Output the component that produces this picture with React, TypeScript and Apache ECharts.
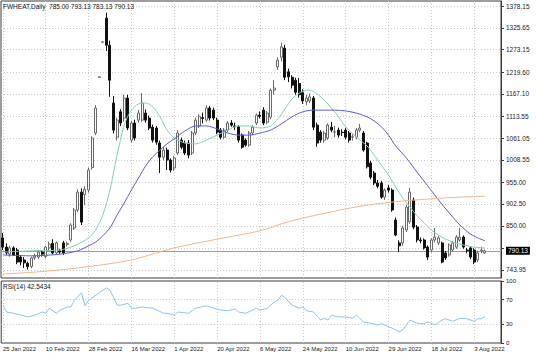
import React, { useEffect, useRef } from "react";
import * as echarts from "echarts";

const symbolName = "FWHEAT,Daily";
const lastOHLC = [785.0, 793.13, 783.13, 790.13];
const rsiLast = 42.5434;

const opens = [
  821, 799, 782, 797, 792, 775, 768, 760, 752, 773,
  775, 787, 776, 797, 808, 785, 790, 809, 805, 816,
  845, 888, 931, 925, 936, 990, 1073, 1207, 1291, 1349,
  1284, 1145, 1063, 1124, 1109, 1157, 1056, 1097, 1104, 1104,
  1121, 1109, 1087, 1085, 1049, 1015, 1032, 1008, 989, 1025,
  1056, 1049, 1049, 1025, 1073, 1090, 1110, 1104, 1133, 1128,
  1104, 1080, 1063, 1080, 1097, 1090, 1088, 1068, 1056, 1044,
  1073, 1097, 1116, 1128, 1099, 1111, 1176, 1232, 1255, 1277,
  1220, 1207, 1200, 1192, 1170, 1148, 1150, 1157, 1092, 1075,
  1056, 1061, 1087, 1075, 1080, 1075, 1080, 1073, 1063, 1063,
  1080, 1073, 1049, 1001, 977, 953, 953, 919, 941, 936,
  864, 809, 809, 840, 860, 912, 847, 816, 816, 799,
  792, 816, 809, 809, 785, 780, 792, 799, 816, 823,
  792, 797, 792, 768, 790, 785,
];
const highs = [
  833, 808, 802, 801, 797, 780, 775, 764, 776, 783,
  790, 792, 802, 812, 818, 812, 795, 814, 812, 856,
  893, 938, 940, 945, 990, 1065, 1140, 1209, 1293, 1362,
  1295, 1162, 1110, 1130, 1165, 1165, 1102, 1105, 1128, 1169,
  1130, 1115, 1093, 1090, 1055, 1040, 1038, 1012, 1018, 1080,
  1062, 1055, 1056, 1078, 1110, 1118, 1122, 1140, 1138, 1134,
  1110, 1085, 1085, 1102, 1104, 1098, 1092, 1072, 1060, 1078,
  1092, 1120, 1125, 1135, 1126, 1180, 1200, 1255, 1290, 1285,
  1228, 1212, 1206, 1205, 1178, 1165, 1168, 1162, 1098, 1080,
  1078, 1096, 1100, 1090, 1086, 1082, 1085, 1078, 1070, 1085,
  1095, 1078, 1052, 1006, 982, 960, 958, 940, 948, 940,
  870, 815, 850, 900, 941, 918, 852, 822, 820, 803,
  820, 845, 826, 812, 790, 808, 813, 828, 845, 827,
  797, 801, 796, 790, 800, 793.13,
];
const lows = [
  792, 780, 776, 778, 758, 755, 749, 745, 748, 768,
  770, 776, 772, 790, 782, 780, 783, 780, 800, 812,
  840, 883, 852, 900, 930, 985, 1068, 1206, 1290, 1270,
  1160, 1072, 1055, 1090, 1100, 1080, 1050, 1055, 1098, 1100,
  1098, 1080, 1050, 1045, 977, 1008, 984, 978, 982, 1020,
  1034, 1020, 1012, 1020, 1068, 1085, 1096, 1100, 1103, 1104,
  1070, 1058, 1058, 1075, 1088, 1080, 1050, 1035, 1040, 1040,
  1068, 1092, 1108, 1092, 1094, 1106, 1165, 1225, 1245, 1200,
  1195, 1180, 1165, 1158, 1143, 1140, 1145, 1080, 1040, 1050,
  1050, 1056, 1075, 1063, 1062, 1066, 1058, 1050, 1055, 1058,
  1075, 1028, 988, 962, 948, 940, 915, 912, 930, 884,
  825, 787, 802, 835, 855, 842, 810, 808, 793, 768,
  786, 810, 804, 760, 768, 776, 788, 795, 812, 795,
  784, 770, 758, 763, 784, 783.13,
];
const closes = [
  799, 785, 797, 780, 763, 763, 761, 752, 773, 778,
  787, 782, 799, 806, 785, 809, 787, 785, 808, 852,
  888, 931, 859, 938, 984, 1061, 1133, 1208, 1292, 1284,
  1200, 1080, 1104, 1097, 1157, 1085, 1097, 1061, 1121, 1145,
  1104, 1085, 1056, 1051, 1015, 1032, 1008, 984, 1013, 1073,
  1039, 1025, 1020, 1073, 1104, 1113, 1108, 1133, 1109, 1109,
  1075, 1063, 1080, 1097, 1092, 1088, 1056, 1039, 1044, 1073,
  1087, 1116, 1113, 1097, 1121, 1176, 1181, 1248, 1280, 1207,
  1208, 1188, 1171, 1165, 1150, 1157, 1160, 1087, 1049, 1056,
  1073, 1092, 1080, 1076, 1068, 1074, 1063, 1056, 1064, 1080,
  1085, 1032, 992, 967, 953, 945, 919, 936, 936, 888,
  828, 802, 845, 895, 931, 847, 816, 814, 797, 775,
  816, 823, 821, 763, 773, 804, 809, 823, 823, 799,
  790, 775, 763, 785, 792, 790.13,
];

// moving averages: [bar index, value]
const maFast = [
  [0, 787], [8, 790], [16, 792], [20, 802], [24, 821], [26, 840], [28, 876], [30, 936],
  [32, 1020], [34, 1092], [36, 1128], [38, 1143], [40, 1145], [42, 1136], [44, 1112],
  [46, 1080], [48, 1061], [51, 1049], [54, 1047], [57, 1056], [60, 1068], [63, 1080],
  [66, 1090], [69, 1090], [72, 1085], [75, 1090], [77, 1107], [79, 1131], [81, 1155],
  [83, 1169], [85, 1176], [86, 1176], [88, 1167], [90, 1152], [92, 1133], [94, 1112],
  [96, 1088], [98, 1071], [100, 1056], [102, 1042], [104, 1020], [106, 996], [108, 972],
  [110, 943], [112, 917], [114, 895], [116, 874], [118, 857], [120, 840], [122, 828],
  [124, 818], [126, 811], [128, 806], [130, 802], [132, 799], [135, 797],
];
const maMid = [
  [0, 780], [8, 778], [16, 782], [21, 790], [24, 802], [26, 811], [28, 826], [30, 845],
  [32, 876], [34, 905], [36, 936], [38, 965], [40, 994], [42, 1016], [44, 1032],
  [46, 1047], [48, 1059], [51, 1078], [54, 1090], [57, 1090], [60, 1083], [63, 1073],
  [66, 1068], [69, 1068], [72, 1073], [75, 1080], [78, 1095], [81, 1112], [84, 1124],
  [87, 1128], [90, 1128], [93, 1128], [96, 1126], [99, 1121], [102, 1112], [104, 1102],
  [106, 1088], [108, 1068], [110, 1042], [113, 1013], [116, 979], [119, 946], [122, 912],
  [125, 881], [128, 852], [131, 830], [133, 821], [135, 814],
];
const maSlow = [
  [0, 734], [12, 741], [24, 752], [36, 768], [48, 797], [60, 818], [72, 838], [80, 860],
  [90, 880], [100, 897], [110, 908], [120, 915], [128, 919], [135, 921],
];
const rsi14 = [
  [0, 61], [1, 50], [3, 48], [5, 45], [7, 42], [9, 45], [11, 50], [12, 48], [13, 56],
  [15, 48], [16, 53], [18, 58], [19, 58], [20, 69], [22, 81], [23, 60], [24, 69], [27, 81],
  [29, 89], [30, 85], [32, 61], [33, 61], [35, 64], [36, 56], [37, 56], [39, 58], [42, 56],
  [45, 48], [46, 48], [48, 45], [49, 50], [52, 48], [54, 56], [57, 60], [58, 58], [61, 53],
  [63, 52], [65, 55], [66, 50], [68, 48], [71, 56], [72, 53], [74, 56], [76, 66], [77, 69],
  [78, 77], [79, 73], [81, 61], [83, 56], [84, 58], [85, 52], [87, 50], [89, 37], [90, 40],
  [91, 37], [92, 45], [94, 42], [96, 42], [98, 40], [99, 45], [101, 34], [103, 32], [105, 29],
  [106, 31], [109, 24], [111, 18], [112, 21], [114, 37], [116, 32], [118, 31], [119, 34],
  [121, 29], [123, 37], [124, 39], [126, 35], [128, 40], [130, 39], [132, 35], [133, 39],
  [134, 39], [135, 42.5434],
];

// price grid levels; the one hidden under the last-price box has no label
const priceGrid = [743.95, 796.45, 850.0, 902.5, 955.0, 1008.55, 1061.05, 1113.55, 1167.1, 1219.6, 1273.15, 1325.65, 1378.15];
const priceTicks = [743.95, 850.0, 902.5, 955.0, 1008.55, 1061.05, 1113.55, 1167.1, 1219.6, 1273.15, 1325.65, 1378.15];
const rsiTicks = [0, 30, 70, 100];
const rsiLevels = [30, 70];
const holidays = ["2022-04-15", "2022-05-30", "2022-06-20", "2022-07-04"];
const startDate = "2022-01-25";
const labelEvery = 12;
const padSlots = 4;
const monthNames = ["Jan", "Feb", "Mar", "Apr", "May", "Jun", "Jul", "Aug", "Sep", "Oct", "Nov", "Dec"];

function tradingDays(start: string, count: number, skip: string[]) {
  const out: string[] = [];
  const d = new Date(start + "T00:00:00Z");
  while (out.length < count) {
    const wd = d.getUTCDay();
    const iso = d.toISOString().slice(0, 10);
    if (wd !== 0 && wd !== 6 && skip.indexOf(iso) < 0) {
      out.push(`${d.getUTCDate()} ${monthNames[d.getUTCMonth()]} ${d.getUTCFullYear()}`);
    }
    d.setUTCDate(d.getUTCDate() + 1);
  }
  return out;
}

const FONT = "Liberation Sans, Arial, sans-serif";

export default function App() {
  const ref = useRef<HTMLDivElement>(null);
  useEffect(() => {
    document.body.style.margin = "0";
    if (!ref.current) return;
    const chart = echarts.init(ref.current, undefined, { renderer: "svg" });
    const n = closes.length;
    const dates = tradingDays(startDate, n, holidays);
    const cats = dates.concat(Array.from({ length: padSlots }, (_, k) => " ".repeat(k + 1)));
    const candles = opens.map((o, i) => [o, closes[i], lows[i], highs[i]]);
    const labelIdx = cats.map((_, i) => i).filter((i) => i % labelEvery === 0 && i < n);
    const dotted = { color: "#c9c9c9", type: [1, 2] as any, width: 1 };

    const option: any = {
      animation: false,
      backgroundColor: "#ffffff",
      textStyle: { fontFamily: FONT },
      grid: [
        { left: 1, right: 35, top: 1, height: 277, show: true, borderColor: "#3a3a3a", borderWidth: 1, backgroundColor: "transparent" },
        { left: 1, right: 35, top: 281, height: 62, show: true, borderColor: "#3a3a3a", borderWidth: 1, backgroundColor: "transparent" },
      ],
      xAxis: [
        {
          type: "category", gridIndex: 0, data: cats, boundaryGap: true,
          axisLine: { show: false }, axisTick: { show: false }, axisLabel: { show: false }, splitLine: { show: false },
        },
        {
          type: "category", gridIndex: 1, data: cats, boundaryGap: true,
          axisLine: { show: false }, axisTick: { show: false }, splitLine: { show: false },
          axisLabel: {
            show: true,
            interval: (i: number) => i % labelEvery === 0 && i < n,
            align: "left", fontSize: 6, color: "#222", margin: 3, fontFamily: FONT,
          },
        },
      ],
      yAxis: [
        {
          type: "value", gridIndex: 0, position: "right", min: 724.7, max: 1390.2,
          axisLine: { show: true, lineStyle: { color: "#3a3a3a" } },
          axisTick: { show: true, customValues: priceGrid, length: 3, lineStyle: { color: "#3a3a3a" } },
          axisLabel: { customValues: priceTicks, formatter: (v: number) => v.toFixed(2), fontSize: 6.5, color: "#222", margin: 5, fontFamily: FONT },
          splitLine: { show: false },
        },
        {
          type: "value", gridIndex: 1, position: "right", min: 0, max: 100,
          axisLine: { show: true, lineStyle: { color: "#3a3a3a" } },
          axisTick: { show: true, customValues: rsiTicks, length: 3, lineStyle: { color: "#3a3a3a" } },
          axisLabel: { customValues: rsiTicks, fontSize: 6, color: "#222", margin: 5, fontFamily: FONT },
          splitLine: { show: false },
        },
      ],
      series: [
        {
          type: "candlestick", name: symbolName, xAxisIndex: 0, yAxisIndex: 0, data: candles,
          barWidth: 2.6, z: 3,
          itemStyle: { color: "#fbfbfb", color0: "#111111", borderColor: "#6a6a6a", borderColor0: "#111111", borderWidth: 1 },
          markLine: {
            z: 1, silent: true, symbol: ["none", "none"], animation: false,
            label: { show: false }, lineStyle: dotted,
            data: [
              ...priceGrid.map((v) => ({ yAxis: v })),
              ...labelIdx.map((i) => ({ xAxis: i })),
              {
                yAxis: lastOHLC[3],
                lineStyle: { type: "solid", color: "#9c9c9c", width: 1 },
                label: {
                  show: true, position: "end", formatter: lastOHLC[3].toFixed(2),
                  backgroundColor: "#000", color: "#fff", fontSize: 6.5, padding: [1, 2, 0, 2], distance: 5, fontFamily: FONT,
                },
              },
            ],
          },
        },
        {
          type: "line", name: "MA fast", xAxisIndex: 0, yAxisIndex: 0, data: maFast, showSymbol: false,
          smooth: 0.3, z: 4, lineStyle: { color: "#84d0b2", width: 1 }, itemStyle: { color: "#84d0b2" },
        },
        {
          type: "line", name: "MA mid", xAxisIndex: 0, yAxisIndex: 0, data: maMid, showSymbol: false,
          smooth: 0.3, z: 4, lineStyle: { color: "#5b5bd6", width: 1 }, itemStyle: { color: "#5b5bd6" },
        },
        {
          type: "line", name: "MA slow", xAxisIndex: 0, yAxisIndex: 0, data: maSlow, showSymbol: false,
          smooth: 0.3, z: 4, lineStyle: { color: "#f1b68c", width: 1 }, itemStyle: { color: "#f1b68c" },
        },
        {
          type: "line", name: "RSI(14)", xAxisIndex: 1, yAxisIndex: 1, data: rsi14, showSymbol: false,
          z: 4, lineStyle: { color: "#8cc3f0", width: 1 }, itemStyle: { color: "#8cc3f0" },
          markLine: {
            z: 1, silent: true, symbol: ["none", "none"], animation: false,
            label: { show: false }, lineStyle: dotted,
            data: [...rsiLevels.map((v) => ({ yAxis: v })), ...labelIdx.map((i) => ({ xAxis: i }))],
          },
        },
      ],
      graphic: [
        {
          type: "text", left: 3, top: 3, z: 10,
          style: { text: `${symbolName}  ${lastOHLC.map((v) => v.toFixed(2)).join(" ")}`, fontSize: 6.5, fill: "#111", fontFamily: FONT },
        },
        {
          type: "text", left: 3, top: 283, z: 10,
          style: { text: `RSI(14) ${rsiLast.toFixed(4)}`, fontSize: 6.5, fill: "#111", fontFamily: FONT },
        },
      ],
    };
    chart.setOption(option);
    return () => chart.dispose();
  }, []);
  return <div ref={ref} style={{ width: 536, height: 355, position: "absolute", left: 0, top: 0 }} />;
}
